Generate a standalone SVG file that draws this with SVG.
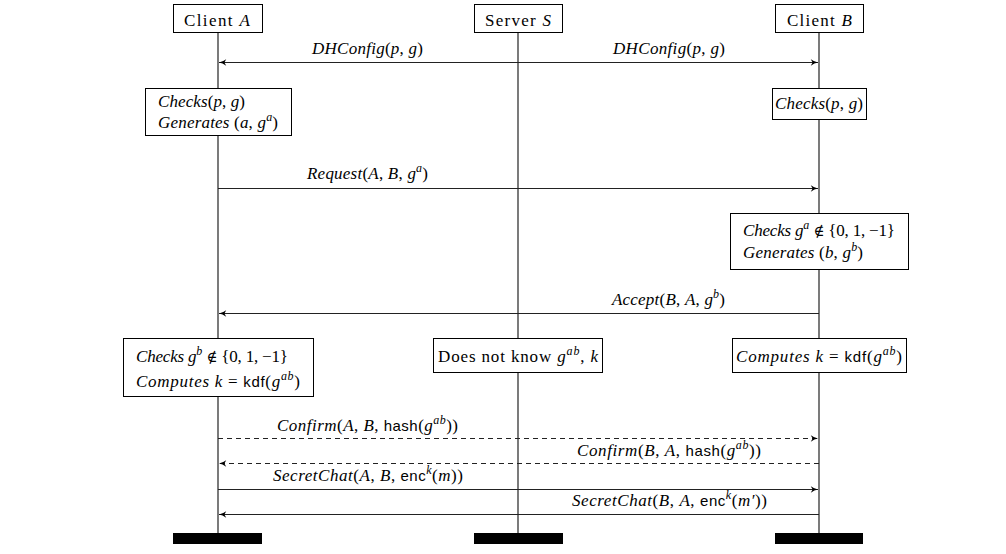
<svg xmlns="http://www.w3.org/2000/svg" width="1006" height="554" viewBox="0 0 1006 554">
<style>
text{font-family:"Liberation Serif",serif;font-size:17px;fill:#000}
.i{font-style:italic}
.s{font-family:"Liberation Sans",sans-serif;font-style:normal;font-size:15px}
.sup{font-size:12px}
.op{font-family:"DejaVu Serif",serif;font-size:15px}
.box{fill:#fff;stroke:#000;stroke-width:1}
.life{stroke:#222;stroke-width:1.2;fill:none}
.msg{stroke:#222;stroke-width:1.1;fill:none}
.dash{stroke-dasharray:5 4}
.bar{fill:#000}
</style>
<defs>
<marker id="ah" viewBox="0 0 10 10" refX="9" refY="5" markerWidth="9" markerHeight="9" markerUnits="userSpaceOnUse" orient="auto-start-reverse">
<path d="M1,1.5 Q5,4.5 9,5 Q5,5.5 1,8.5 L3,5 Z" fill="#000"/>
</marker>
</defs>
<g id="lifelines">
<line class="life" x1="218" y1="32" x2="218" y2="533"/>
<line class="life" x1="518" y1="32" x2="518" y2="533"/>
<line class="life" x1="819" y1="32" x2="819" y2="533"/>
</g>
<g id="clientA"><rect class="box" x="173.5" y="4.5" width="89" height="28"/><text x="184" y="25.5" textLength="66">Client <tspan class="i">A</tspan></text></g>
<g id="serverS"><rect class="box" x="474.5" y="4.5" width="88" height="28"/><text x="485" y="25.5" textLength="66">Server <tspan class="i">S</tspan></text></g>
<g id="clientB"><rect class="box" x="775.5" y="4.5" width="88" height="28"/><text x="787" y="25.5" textLength="65">Client <tspan class="i">B</tspan></text></g>
<g id="connectors">
<line class="msg" x1="219" y1="62.5" x2="818" y2="62.5" marker-start="url(#ah)" marker-end="url(#ah)"/>
<line class="msg" x1="218" y1="188.5" x2="818" y2="188.5" marker-end="url(#ah)"/>
<line class="msg" x1="819" y1="313.5" x2="219" y2="313.5" marker-end="url(#ah)"/>
<line class="msg dash" x1="218" y1="438.5" x2="818" y2="438.5" marker-end="url(#ah)"/>
<line class="msg dash" x1="819" y1="463.5" x2="219" y2="463.5" marker-end="url(#ah)"/>
<line class="msg" x1="218" y1="489.5" x2="818" y2="489.5" marker-end="url(#ah)"/>
<line class="msg" x1="819" y1="514.5" x2="219" y2="514.5" marker-end="url(#ah)"/>
</g>
<g id="labels">
<text x="312" y="54" textLength="111"><tspan class="i">DHConfig</tspan>(<tspan class="i">p</tspan>, <tspan class="i">g</tspan>)</text>
<text x="613" y="54" textLength="112"><tspan class="i">DHConfig</tspan>(<tspan class="i">p</tspan>, <tspan class="i">g</tspan>)</text>
<text x="307" y="178.5" textLength="121"><tspan class="i">Request</tspan>(<tspan class="i">A</tspan>, <tspan class="i">B</tspan>, <tspan class="i">g</tspan><tspan class="i sup" dy="-7">a</tspan><tspan dy="7">)</tspan></text>
<text x="612" y="305" textLength="113"><tspan class="i">Accept</tspan>(<tspan class="i">B</tspan>, <tspan class="i">A</tspan>, <tspan class="i">g</tspan><tspan class="i sup" dy="-7">b</tspan><tspan dy="7">)</tspan></text>
<text x="277" y="431" textLength="181"><tspan class="i">Confirm</tspan>(<tspan class="i">A</tspan>, <tspan class="i">B</tspan>, <tspan class="s">hash</tspan>(<tspan class="i">g</tspan><tspan class="i sup" dy="-7">ab</tspan><tspan dy="7">))</tspan></text>
<text x="577" y="455.5" textLength="184"><tspan class="i">Confirm</tspan>(<tspan class="i">B</tspan>, <tspan class="i">A</tspan>, <tspan class="s">hash</tspan>(<tspan class="i">g</tspan><tspan class="i sup" dy="-7">ab</tspan><tspan dy="7">))</tspan></text>
<text x="273" y="481" textLength="190"><tspan class="i">SecretChat</tspan>(<tspan class="i">A</tspan>, <tspan class="i">B</tspan>, <tspan class="s">enc</tspan><tspan class="i sup" dy="-7">k</tspan><tspan dy="7">(</tspan><tspan class="i">m</tspan>))</text>
<text x="572" y="506" textLength="195"><tspan class="i">SecretChat</tspan>(<tspan class="i">B</tspan>, <tspan class="i">A</tspan>, <tspan class="s">enc</tspan><tspan class="i sup" dy="-7">k</tspan><tspan dy="7">(</tspan><tspan class="i">m′</tspan>))</text>
</g>
<g id="checkA1"><rect class="box" x="145.5" y="88.5" width="146" height="47"/>
<text x="158" y="107" textLength="87"><tspan class="i">Checks</tspan>(<tspan class="i">p</tspan>, <tspan class="i">g</tspan>)</text>
<text x="158" y="128" textLength="120"><tspan class="i">Generates</tspan> (<tspan class="i">a</tspan>, <tspan class="i">g</tspan><tspan class="i sup" dy="-7">a</tspan><tspan dy="7">)</tspan></text></g>
<g id="checkB1"><rect class="box" x="772.5" y="88.5" width="94" height="31"/>
<text x="775" y="109" textLength="88"><tspan class="i">Checks</tspan>(<tspan class="i">p</tspan>, <tspan class="i">g</tspan>)</text></g>
<g id="checkB2"><rect class="box" x="730.5" y="213.5" width="178" height="56"/>
<text x="743" y="236" textLength="152"><tspan class="i">Checks g</tspan><tspan class="i sup" dy="-7">a</tspan><tspan dy="7"> </tspan><tspan class="op">∉</tspan> {0, 1, −1}</text>
<text x="743" y="257.5" textLength="120"><tspan class="i">Generates</tspan> (<tspan class="i">b</tspan>, <tspan class="i">g</tspan><tspan class="i sup" dy="-7">b</tspan><tspan dy="7">)</tspan></text></g>
<g id="checkA2"><rect class="box" x="123.5" y="338.5" width="190" height="58"/>
<text x="136" y="362" textLength="152"><tspan class="i">Checks g</tspan><tspan class="i sup" dy="-7">b</tspan><tspan dy="7"> </tspan><tspan class="op">∉</tspan> {0, 1, −1}</text>
<text x="136" y="386.5" textLength="164"><tspan class="i">Computes k</tspan> = <tspan class="s">kdf</tspan>(<tspan class="i">g</tspan><tspan class="i sup" dy="-7">ab</tspan><tspan dy="7">)</tspan></text></g>
<g id="serverNote"><rect class="box" x="433.5" y="338.5" width="169" height="34"/>
<text x="438" y="362" textLength="160">Does not know <tspan class="i">g</tspan><tspan class="i sup" dy="-7">ab</tspan><tspan dy="7">, </tspan><tspan class="i">k</tspan></text></g>
<g id="computeB"><rect class="box" x="732.5" y="338.5" width="174" height="34"/>
<text x="736" y="362" textLength="166"><tspan class="i">Computes k</tspan> = <tspan class="s">kdf</tspan>(<tspan class="i">g</tspan><tspan class="i sup" dy="-7">ab</tspan><tspan dy="7">)</tspan></text></g>
<g id="ends">
<rect class="bar" x="173" y="533" width="89" height="11"/>
<rect class="bar" x="474" y="533" width="89" height="11"/>
<rect class="bar" x="775" y="533" width="88" height="11"/>
</g>
</svg>
